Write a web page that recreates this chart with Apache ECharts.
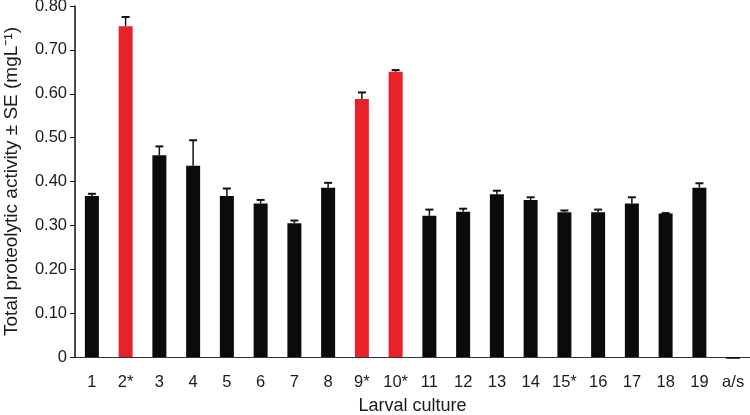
<!DOCTYPE html>
<html><head><meta charset="utf-8">
<script src="https://cdn.jsdelivr.net/npm/echarts@6/dist/echarts.min.js"></script>
<style>html,body{margin:0;padding:0;background:#fff}#c{width:750px;height:415px}</style>
</head><body><div id="c"></div>
<script>
const categories = ['1','2*','3','4','5','6','7','8','9*','10*','11','12','13','14','15*','16','17','18','19','a/s'];
const values = [0.367,0.754,0.460,0.436,0.367,0.350,0.305,0.386,0.588,0.650,0.322,0.331,0.371,0.358,0.330,0.330,0.350,0.327,0.386,-0.004];
const errors = [0.005,0.021,0.020,0.058,0.017,0.008,0.006,0.011,0.015,0.004,0.014,0.007,0.008,0.006,0.004,0.006,0.014,0.001,0.010,0];
const highlighted = ['2*','9*','10*'];
const yTicks = [0,0.1,0.2,0.3,0.4,0.5,0.6,0.7,0.8];

const RED = '#e8212b', BLACK = '#0b0b0b';
const font = 'Liberation Sans, Arial, Helvetica, sans-serif';
const chart = echarts.init(document.getElementById('c'));
chart.setOption({
  animation: false,
  grid: {left: 75, right: 0, top: 6, bottom: 58, containLabel: false, outerBoundsMode: 'none'},
  xAxis: {
    type: 'category', data: categories,
    name: 'Larval culture', nameLocation: 'middle', nameGap: 40,
    nameTextStyle: {fontFamily: font, fontSize: 18, color: '#1a1a1a'},
    axisLine: {lineStyle: {color: '#333', width: 1.2}},
    axisTick: {show: false},
    axisLabel: {fontFamily: font, fontSize: 16.5, color: '#1a1a1a', margin: 17, interval: 0}
  },
  yAxis: {
    type: 'value', min: yTicks[0], max: yTicks[yTicks.length-1], interval: 0.1,
    name: 'Total proteolytic activity ± SE (mgL\u207B\u00B9)', nameLocation: 'middle', nameGap: 54,
    nameTextStyle: {fontFamily: font, fontSize: 19, color: '#1a1a1a'},
    axisLine: {show: true, lineStyle: {color: '#111', width: 1.5}},
    axisTick: {show: true, length: 5, lineStyle: {color: '#111'}},
    splitLine: {show: false},
    axisLabel: {fontFamily: font, fontSize: 16.5, color: '#1a1a1a', margin: 8,
      formatter: v => v === 0 ? '0' : v.toFixed(2)}
  },
  series: [
    {
      type: 'bar', barWidth: 14, clip: false,
      data: values.map((v, i) => ({value: v, itemStyle: {color: highlighted.includes(categories[i]) ? RED : BLACK}}))
    },
    {
      type: 'custom', clip: false,
      renderItem: (params, api) => {
        const i = api.value(0), v = api.value(1), e = api.value(2);
        if (!e) return null;
        const p0 = api.coord([i, v]);
        const p1 = api.coord([i, v + e]);
        const hw = 4;
        return {type: 'group', children: [
          {type: 'line', shape: {x1: p0[0], y1: p0[1], x2: p1[0], y2: p1[1]}, style: {stroke: '#111', lineWidth: 1.5}},
          {type: 'line', shape: {x1: p1[0]-hw, y1: p1[1], x2: p1[0]+hw, y2: p1[1]}, style: {stroke: '#111', lineWidth: 2}}
        ]};
      },
      data: values.map((v, i) => [i, v, errors[i]]),
      z: 1
    }
  ]
});
</script></body></html>
